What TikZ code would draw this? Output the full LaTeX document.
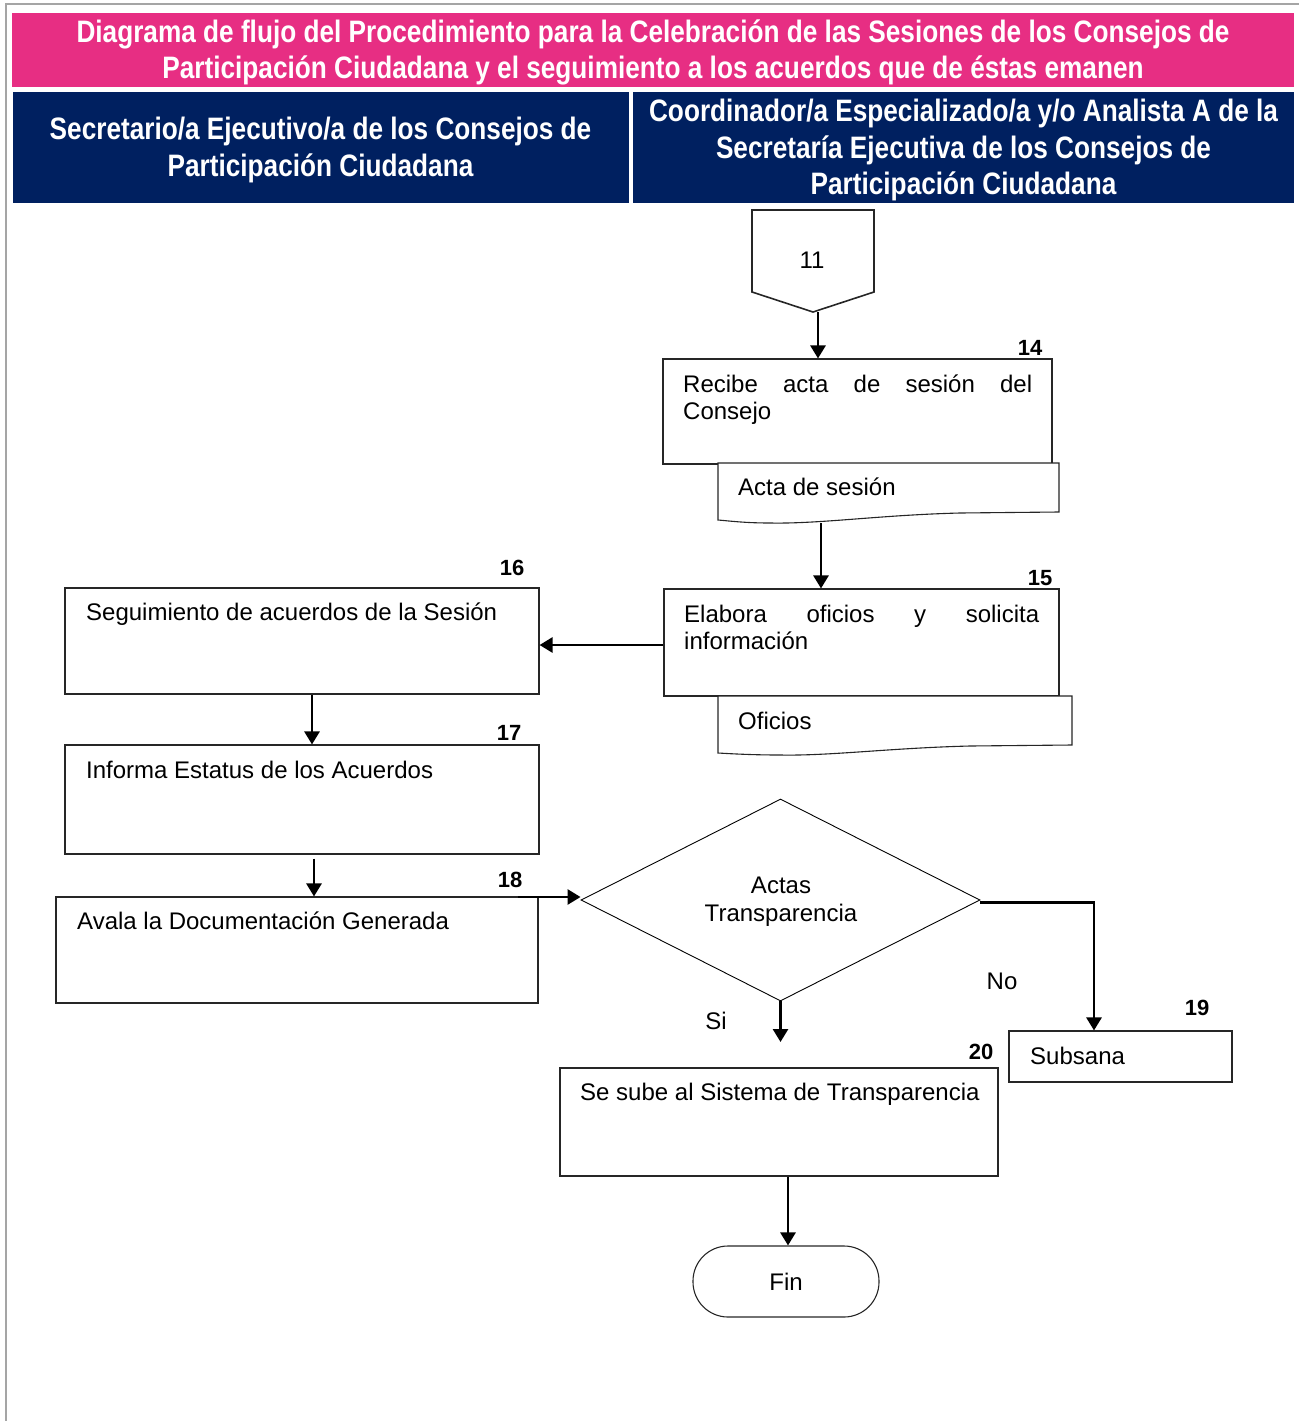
\documentclass[tikz,border=0pt]{standalone}
\usepackage{fontspec}
\setmainfont{Liberation Sans}
\newfontfamily\hdrfont[FakeStretch=0.845]{Liberation Sans}
\usetikzlibrary{arrows.meta,shapes.geometric,calc}
\definecolor{hdrpink}{RGB}{231,46,131}
\definecolor{hdrnavy}{RGB}{0,32,96}
\definecolor{framegray}{RGB}{165,165,165}
\begin{document}
\begin{tikzpicture}[x=1pt,y=-1pt,
  box/.style={draw=black!85, line width=1.1pt, fill=white, rectangle, inner sep=0pt},
  arr/.style={line width=2.7pt, -{Triangle[length=13pt,width=15pt]}},
  txt/.style={font=\fontsize{24}{27.5}\selectfont, inner sep=0pt},
  num/.style={font=\fontsize{22}{26}\selectfont\bfseries, inner sep=0pt},
  band/.style={inner sep=0pt},
  hdr/.style={text=white, align=center, inner sep=0pt, font=\hdrfont\bfseries\fontsize{31}{36.5}\selectfont}
]
\useasboundingbox (0,0) rectangle (1299,1421);
% outer frame
\draw[framegray, line width=2pt] (5,4.5) -- (1299,4.5);
\draw[framegray, line width=2pt] (6,4.5) -- (6,1421);

% headers
\node[band, fill=hdrpink, minimum width=1282pt, minimum height=74pt] (title) at (653,50) {};
\node[hdr] (titletext) at ([yshift=-2.5pt]title.center)
  {Diagrama de flujo del Procedimiento para la Celebración de las Sesiones de los Consejos de\\Participación Ciudadana y el seguimiento a los acuerdos que de éstas emanen};
\node[band, fill=hdrnavy, minimum width=616pt, minimum height=111pt] (laneA) at (320.5,147.5) {};
\node[hdr] (laneAtext) at ([yshift=-2.5pt]laneA.center)
  {Secretario/a Ejecutivo/a de los Consejos de\\Participación Ciudadana};
\node[band, fill=hdrnavy, minimum width=661pt, minimum height=111pt] (laneB) at (963.5,147.5) {};
\node[hdr] (laneBtext) at ([yshift=-2.5pt]laneB.center)
  {Coordinador/a Especializado/a y/o Analista A de la\\Secretaría Ejecutiva de los Consejos de\\Participación Ciudadana};

% off-page connector 11
\draw[black!85, line width=1.6pt] (752,210) -- (874,210) -- (874,292) -- (813,312) -- (752,292) -- cycle;
\node[txt] (c11) at (812,260) {11};
\coordinate (p11) at (818,312);

% step 14
\node[box, minimum width=389pt, minimum height=105pt] (b14) at (857.5,411.5) {};
\node[num] (n14) at (1030,348) {14};
\node[txt, text width=349pt, align=justify, anchor=base west] (t14) at (683,392) {Recibe acta de sesión del\linebreak Consejo};
\draw[box] (718,463) -- (1059,463) -- (1059,512) -- (960,513) .. controls (880,515) and (820,524) .. (770,523) .. controls (745,523) and (730,521) .. (718,520) -- cycle;
\node[txt, anchor=base west] (d14) at (738,495) {Acta de sesión};
\coordinate (d14s) at (821,523);

% step 15
\node[box, minimum width=395pt, minimum height=107pt] (b15) at (861.5,642.5) {};
\node[num] (n15) at (1040,578) {15};
\node[txt, text width=355pt, align=justify, anchor=base west] (t15) at (684,622) {Elabora oficios y solicita\linebreak información};
\draw[box] (718,696) -- (1072,696) -- (1072,745) -- (970,746) .. controls (890,748) and (830,756) .. (780,755) .. controls (755,755) and (735,754) .. (718,753) -- cycle;
\node[txt, anchor=base west] (d15) at (738,729) {Oficios};

% step 16
\node[box, minimum width=474pt, minimum height=106pt] (b16) at (302,641) {};
\node[num] (n16) at (512,568) {16};
\node[txt, anchor=base west] (t16) at (86,620) {Seguimiento de acuerdos de la Sesión};

% step 17
\node[box, minimum width=474pt, minimum height=109pt] (b17) at (302,799.5) {};
\node[num] (n17) at (509,733) {17};
\node[txt, anchor=base west] (t17) at (86,778) {Informa Estatus de los Acuerdos};

% step 18
\node[box, minimum width=482pt, minimum height=106pt] (b18) at (297,950) {};
\node[num] (n18) at (510,880) {18};
\node[txt, anchor=base west] (t18) at (77,929) {Avala la Documentación Generada};
\coordinate (q18) at (518,897);

% decision
\node[draw=black, line width=0.9pt, diamond, aspect=2, inner sep=0pt, minimum width=399pt, minimum height=202pt] (dec) at (780.5,900) {};
\node[txt, align=center] (dect) at (781,901.5) {Actas\\Transparencia};
\node[txt] (lno) at (1002,981) {No};
\node[txt] (lsi) at (716,1021) {Si};
\coordinate (siend) at (780.5,1042);

% step 19
\node[box, minimum width=223pt, minimum height=51pt] (b19) at (1120.5,1056.5) {};
\node[num] (n19) at (1197,1008) {19};
\node[txt, anchor=base west] (t19) at (1030,1064) {Subsana};

% step 20
\node[box, minimum width=438pt, minimum height=108pt] (b20) at (779,1122) {};
\node[num] (n20) at (981,1052) {20};
\node[txt, anchor=base west] (t20) at (580,1100) {Se sube al Sistema de Transparencia};

% end
\node[draw=black!85, line width=1.1pt, rounded corners=35pt, minimum width=186pt, minimum height=71pt, inner sep=0pt, txt] (fin) at (786,1281.5) {Fin};

% connectors
\draw[arr] (p11) -- (p11 |- b14.north);
\draw[arr] (d14s) -- (d14s |- b15.north);
\draw[arr] ([yshift=-2.5pt]b15.west) -- ([yshift=-2.5pt]b15.west -| b16.east);
\draw[arr] ([xshift=10pt]b16.south) -- ([xshift=10pt]b17.north);
\draw[arr] ([xshift=12pt,yshift=-4pt]b17.south) -- ([xshift=17pt]b18.north);
\draw[arr] (q18) -- (q18 -| dec.west);
\draw[arr] ([yshift=-2.5pt]dec.east) -| ([xshift=-26.5pt]b19.north);
\draw[arr] (dec.south) -- (siend);
\draw[arr] ([xshift=9pt]b20.south) -- ([xshift=2pt]fin.north);
\end{tikzpicture}
\end{document}
